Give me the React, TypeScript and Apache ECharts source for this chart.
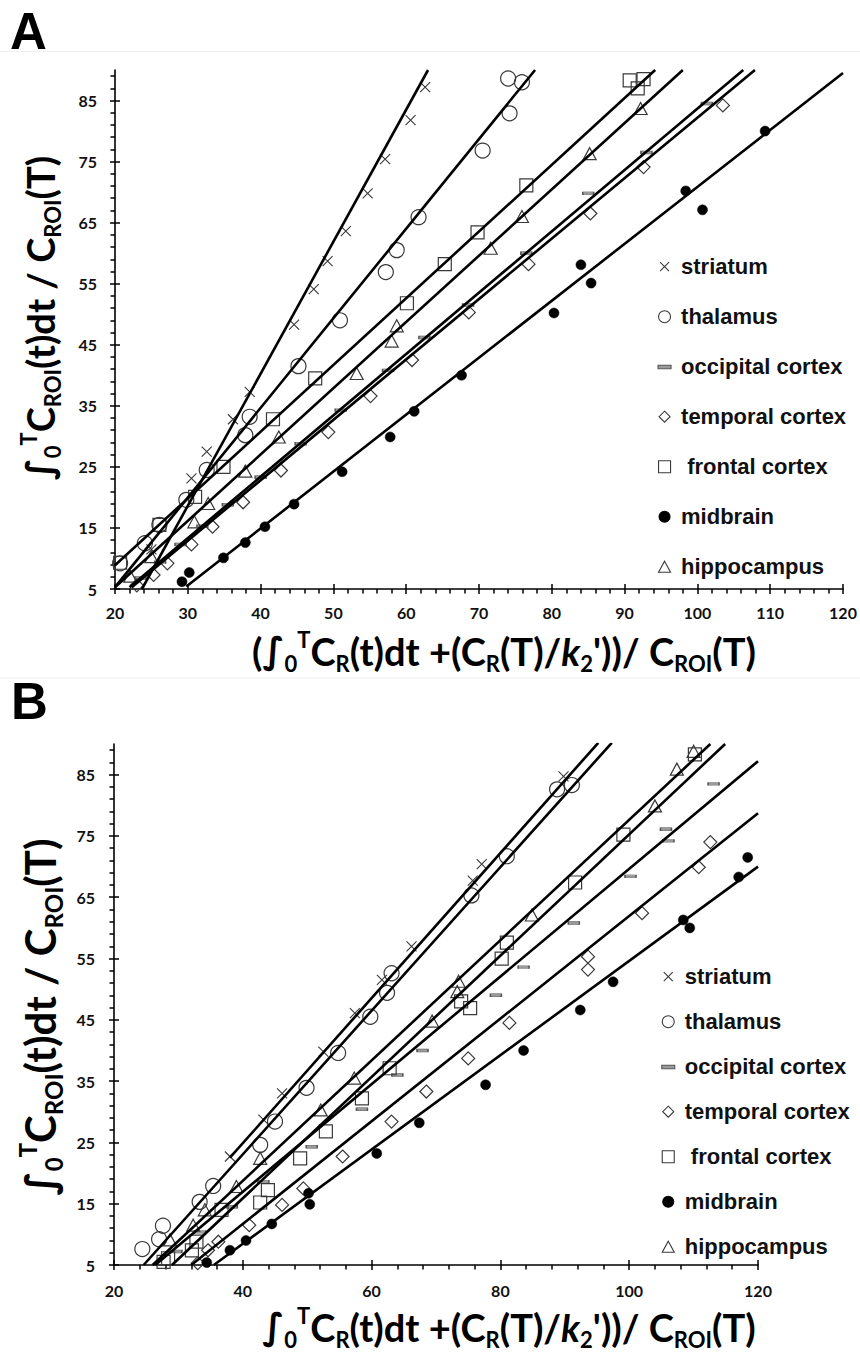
import React, { useEffect, useRef } from 'react';
import * as echarts from 'echarts';

// ---------- categories & ticks ----------
const regions = ['striatum', 'thalamus', 'occipital cortex', 'temporal cortex', 'frontal cortex', 'midbrain', 'hippocampus'];
const xTicksA = [20, 30, 40, 50, 60, 70, 80, 90, 100, 110, 120];
const xTicksB = [20, 40, 60, 80, 100, 120];
const yTicks = [5, 15, 25, 35, 45, 55, 65, 75, 85];

// ---------- panel A data [x, y] ----------
const striatumA = [[25.0, 11.5], [30.5, 23.1], [32.6, 27.5], [36.2, 32.8], [38.5, 37.3], [44.6, 48.3], [47.3, 54.1], [49.2, 58.7], [51.7, 63.6], [54.7, 69.8], [57.1, 75.4], [60.6, 81.8], [62.6, 87.2]];
const thalamusA = [[20.7, 9.2], [24.1, 12.5], [26.1, 15.5], [29.8, 19.6], [32.6, 24.5], [37.9, 30.2], [38.5, 33.2], [45.2, 41.5], [50.9, 49.0], [57.2, 56.9], [58.7, 60.5], [61.7, 65.9], [70.5, 76.8], [74.2, 82.9], [74.0, 88.6], [75.9, 88.0]];
const occipitalA = [[23.5, 6.8], [26.2, 9.4], [29.0, 12.3], [32.0, 15.3], [35.5, 18.8], [40.0, 23.3], [45.5, 28.8], [51.0, 34.3], [57.5, 40.8], [62.5, 46.2], [68.5, 51.5], [76.5, 60.0], [85.0, 69.8], [93.0, 76.5], [101.3, 84.5]];
const temporalA = [[23.0, 5.6], [25.3, 7.3], [27.2, 9.2], [30.5, 12.3], [33.4, 15.2], [37.6, 19.2], [42.8, 24.4], [49.3, 30.7], [55.1, 36.6], [60.8, 42.5], [68.6, 50.3], [76.8, 58.2], [85.3, 66.5], [92.6, 74.1], [103.5, 84.2]];
const frontalA = [[20.7, 9.3], [26.1, 15.5], [31.0, 20.1], [34.9, 25.0], [41.7, 32.8], [47.5, 39.5], [60.1, 51.8], [65.3, 58.2], [69.8, 63.4], [76.5, 71.1], [90.7, 88.3], [92.6, 88.5], [91.8, 87.0]];
const midbrainA = [[29.2, 6.2], [30.2, 7.7], [34.9, 10.1], [37.9, 12.6], [40.6, 15.2], [44.6, 18.9], [51.2, 24.2], [57.8, 29.9], [61.1, 34.1], [67.6, 40.0], [80.3, 50.2], [84.0, 58.1], [85.4, 55.1], [98.4, 70.2], [100.7, 67.1], [109.3, 80.0]];
const hippocampusA = [[22.1, 7.1], [25.0, 10.3], [30.9, 16.0], [32.8, 19.0], [37.9, 24.3], [42.5, 29.9], [53.2, 40.3], [58.0, 45.6], [58.7, 48.1], [71.6, 60.8], [75.9, 66.0], [85.2, 76.3], [92.2, 83.7]];
// fitted lines [x1, y1, x2, y2] in region order
const fitLinesA = [[23.7, 5, 63.0, 90], [20, 5.3, 77.7, 90], [22.0, 5.3, 106.3, 90], [22.3, 5.3, 107.9, 90], [20, 8.9, 94.2, 90], [29.8, 5.4, 120, 89.5], [20, 5.3, 98.0, 90]];

// ---------- panel B data [x, y] ----------
const striatumB = [[38.0, 22.7], [43.2, 28.7], [46.1, 33.0], [52.5, 39.8], [57.4, 46.1], [61.6, 51.5], [66.2, 57.0], [75.7, 67.7], [77.1, 70.4], [89.8, 84.7]];
const thalamusB = [[24.4, 7.6], [27.0, 9.2], [27.6, 11.4], [33.3, 15.3], [35.4, 17.9], [42.7, 24.6], [45.0, 28.4], [49.9, 33.9], [54.8, 39.6], [59.8, 45.5], [62.4, 49.4], [63.1, 52.6], [75.5, 65.3], [81.0, 71.7], [88.8, 82.6], [91.1, 83.3]];
const occipitalB = [[29.7, 7.2], [33.4, 10.4], [38.3, 14.5], [43.2, 18.6], [50.7, 24.3], [58.5, 30.4], [64.0, 36.0], [67.9, 40.0], [79.3, 49.0], [83.6, 53.6], [91.4, 60.8], [100.2, 68.4], [105.7, 76.1], [106.1, 74.2], [113.1, 83.5]];
const temporalB = [[33.0, 5.3], [34.6, 7.4], [36.2, 8.8], [41.0, 11.5], [46.1, 14.8], [49.4, 17.5], [55.5, 22.7], [63.1, 28.4], [68.5, 33.3], [75.0, 38.7], [81.4, 44.5], [93.6, 53.2], [93.6, 55.3], [102.0, 62.4], [110.8, 69.9], [112.6, 74.0]];
const frontalB = [[27.7, 5.5], [28.4, 6.1], [32.1, 7.4], [32.8, 8.8], [36.7, 14.0], [42.7, 15.2], [43.9, 17.2], [48.9, 22.4], [52.9, 26.8], [58.5, 32.2], [62.8, 37.1], [73.9, 48.0], [75.3, 46.9], [80.2, 55.0], [81.0, 57.6], [91.6, 67.4], [99.1, 75.2], [110.2, 88.3]];
const midbrainB = [[34.4, 5.4], [38.0, 7.4], [40.5, 9.0], [44.5, 11.7], [50.2, 16.7], [50.4, 14.9], [60.8, 23.2], [67.4, 28.2], [77.7, 34.4], [83.6, 40.0], [92.4, 46.6], [97.5, 51.2], [108.4, 61.3], [109.4, 60.0], [117.0, 68.3], [118.4, 71.5]];
const hippocampusB = [[28.7, 9.1], [32.3, 11.5], [34.1, 14.0], [39.0, 17.8], [42.7, 22.4], [52.1, 30.3], [57.3, 35.5], [69.4, 44.8], [73.3, 49.6], [73.5, 51.3], [84.9, 62.1], [104.0, 79.9], [107.4, 85.9], [110.0, 88.8]];
const fitLinesB = [[38.0, 22.5, 95.2, 90.2], [24.6, 5, 97.3, 90.2], [26.4, 5, 120, 87.2], [32.0, 5, 120, 78.7], [29.0, 5, 114.9, 90], [35.5, 5, 120, 70.0], [26.0, 5, 112.6, 90]];

const pointsA = [striatumA, thalamusA, occipitalA, temporalA, frontalA, midbrainA, hippocampusA];
const pointsB = [striatumB, thalamusB, occipitalB, temporalB, frontalB, midbrainB, hippocampusB];

// ---------- styles ----------
const HOLLOW = 'rgba(0,0,0,0)';
const MK = '#3a3a3a';
const markers: any[] = [
  { symbol: 'path://M0,0L10,10M10,0L0,10', size: 10, color: HOLLOW, border: MK, bw: 1.1 },
  { symbol: 'circle', size: 15, color: HOLLOW, border: MK, bw: 1.2 },
  { symbol: 'rect', size: [11, 3], color: '#9a9a9a', border: '#555', bw: 0.8 },
  { symbol: 'diamond', size: 13, color: HOLLOW, border: MK, bw: 1.2 },
  { symbol: 'rect', size: 13, color: HOLLOW, border: MK, bw: 1.2 },
  { symbol: 'circle', size: 10, color: '#000', border: '#000', bw: 0.5 },
  { symbol: 'triangle', size: [13, 12], color: HOLLOW, border: MK, bw: 1.2 },
];
const legendIcons = [
  'path://M0,0M13,13M2,2L11,11M11,2L2,11',
  'path://M0,0M13,13M12.5,6.5A6,6,0,1,1,0.5,6.5A6,6,0,1,1,12.5,6.5Z',
  'path://M0,0M13,13M0,5H13V8.5H0Z',
  'path://M0,0M13,13M6.5,1L12,6.5L6.5,12L1,6.5Z',
  'path://M0,0M13,13M0.5,0.5H12.5V12.5H0.5Z',
  'path://M0,0M13,13M12,6.5A5.5,5.5,0,1,1,1,6.5A5.5,5.5,0,1,1,12,6.5Z',
  'path://M0,0M13,13M6.5,1L12.5,12L0.5,12Z',
];

function minorValues(min: number, max: number, step: number, majors: number[]) {
  const out: number[] = [];
  for (let v = min; v <= max + 1e-9; v += step) {
    const r = Math.round(v * 1000) / 1000;
    if (!majors.includes(r)) out.push(r);
  }
  return out;
}

const TICK_FONT = { fontFamily: 'Lato', fontWeight: 'bold', fontSize: 16, color: '#111' };
const AXIS_COLOR = '#000';

function axisSet(dim: 'x' | 'y', grid: number, min: number, max: number, majors: number[], minors: number[], margin: number) {
  const common: any = {
    type: 'value', gridIndex: grid, min, max,
    position: dim === 'x' ? 'bottom' : 'left',
    splitLine: { show: false }, minorSplitLine: { show: false },
  };
  const tickStyle = { color: AXIS_COLOR, width: 1.5 };
  return [
    {
      ...common,
      axisLine: { show: true, onZero: false, lineStyle: { color: AXIS_COLOR, width: 1.6 } },
      axisTick: { show: true, customValues: majors, length: 5, inside: false, lineStyle: tickStyle },
      axisLabel: { show: true, customValues: majors, margin, ...TICK_FONT },
    },
    {
      ...common,
      axisLine: { show: false, onZero: false },
      axisTick: { show: true, customValues: majors, length: 5, inside: true, lineStyle: tickStyle },
      axisLabel: { show: false },
    },
    {
      ...common,
      axisLine: { show: false, onZero: false },
      axisTick: { show: true, customValues: minors, length: 4.5, inside: false, lineStyle: tickStyle },
      axisLabel: { show: false },
    },
  ];
}

function panelSeries(points: number[][][], fits: number[][], axisIndex: number) {
  const out: any[] = [];
  points.forEach((pts, i) => {
    const m = markers[i];
    out.push({
      name: regions[i],
      type: 'scatter',
      xAxisIndex: axisIndex, yAxisIndex: axisIndex,
      data: pts,
      symbol: m.symbol,
      symbolSize: m.size,
      itemStyle: { color: m.color, borderColor: m.border, borderWidth: m.bw, opacity: 1 },
      z: 2,
      silent: true,
    });
  });
  fits.forEach((f, i) => {
    out.push({
      name: 'fit ' + axisIndex + '-' + i,
      type: 'line',
      xAxisIndex: axisIndex, yAxisIndex: axisIndex,
      data: [[f[0], f[1]], [f[2], f[3]]],
      symbol: 'none',
      clip: true,
      lineStyle: { color: '#000', width: 2.6 },
      z: 3,
      silent: true,
    });
  });
  return out;
}

function titleRich(main: number, sub: number) {
  const lh = Math.round(main * 1.2);
  return {
    m: { fontFamily: 'Lato', fontWeight: 'bold', fontSize: main, lineHeight: lh, fill: '#000' },
    mi: { fontFamily: 'Lato', fontWeight: 'bold', fontStyle: 'italic', fontSize: main, lineHeight: lh, fill: '#000' },
    s: { fontFamily: 'Lato', fontWeight: 'bold', fontSize: sub, lineHeight: sub, verticalAlign: 'bottom', fill: '#000' },
    p: { fontFamily: 'Lato', fontWeight: 'bold', fontSize: sub, lineHeight: sub, verticalAlign: 'top', fill: '#000' },
    i: { fontFamily: 'DejaVu Sans', fontWeight: 'bold', fontSize: main * 0.95, lineHeight: lh, fill: '#000' },
  } as any;
}
const yTitle = '{i|∫}{s|0}{p|T}{m|C}{s|ROI}{m|(t)dt / C}{s|ROI}{m|(T)}';
const xTitleA = "{m|(}{i|∫}{s|0}{p|T}{m|C}{s|R}{m|(t)dt +(C}{s|R}{m|(T)/}{mi|k}{s|2}{m|'))/ C}{s|ROI}{m|(T)}";
const xTitleB = "{i|∫}{s|0}{p|T}{m|C}{s|R}{m|(t)dt +(C}{s|R}{m|(T)/}{mi|k}{s|2}{m|'))/ C}{s|ROI}{m|(T)}";

function legendFor(left: number, top: number, gap: number) {
  return {
    left, top, orient: 'vertical', itemGap: gap, itemWidth: 23, itemHeight: 13,
    selectedMode: false, symbolKeepAspect: true,
    data: regions.map((n, i) => ({ name: n, icon: legendIcons[i] })),
    formatter: (name: string) => (name === 'frontal cortex' ? '\u00a0' + name : name),
    textStyle: { fontFamily: 'Liberation Sans', fontWeight: 'bold', fontSize: 22, color: '#111', lineHeight: 24 },
    itemStyle: { borderWidth: 1.1 },
  };
}

function buildOption() {
  const xMinorA = minorValues(20, 120, 2, xTicksA);
  const xMinorB = minorValues(20, 120, 4, xTicksB);
  const yMinor = minorValues(5, 89, 2, yTicks);
  return {
    animation: false,
    backgroundColor: '#fff',
    grid: [
      { left: 115, top: 70, width: 728, height: 519, outerBoundsMode: 'none' },
      { left: 114, top: 744, width: 644, height: 521, outerBoundsMode: 'none' },
    ],
    xAxis: [
      ...axisSet('x', 0, 20, 120, xTicksA, xMinorA, 15),
      ...axisSet('x', 1, 20, 120, xTicksB, xMinorB, 17),
    ],
    yAxis: [
      ...axisSet('y', 0, 5, 90, yTicks, yMinor, 18),
      ...axisSet('y', 1, 5, 90, yTicks, yMinor, 19),
    ],
    legend: [legendFor(652.5, 249.7, 26), legendFor(656.2, 959.7, 21)],
    series: [...panelSeries(pointsA, fitLinesA, 0), ...panelSeries(pointsB, fitLinesB, 3)],
    graphic: [
      { type: 'line', shape: { x1: 0, y1: 51.5, x2: 860, y2: 51.5 }, style: { stroke: '#efefef', lineWidth: 1 } },
      { type: 'line', shape: { x1: 0, y1: 678, x2: 860, y2: 678 }, style: { stroke: '#efefef', lineWidth: 1 } },
      { type: 'text', x: 10, y: 31.5, style: { text: 'A', font: 'bold 51px "Liberation Sans"', fill: '#000', align: 'left', verticalAlign: 'middle' } },
      { type: 'text', x: 11, y: 701, style: { text: 'B', font: 'bold 51px "Liberation Sans"', fill: '#000', align: 'left', verticalAlign: 'middle' } },
      { type: 'text', x: 40, y: 318, rotation: Math.PI / 2, style: { text: yTitle, rich: titleRich(38, 22), align: 'center', verticalAlign: 'middle' } },
      { type: 'text', x: 40, y: 1017, rotation: Math.PI / 2, style: { text: yTitle, rich: titleRich(42, 24), align: 'center', verticalAlign: 'middle' } },
      { type: 'text', x: 504, y: 651, style: { text: xTitleA, rich: titleRich(38, 22), align: 'center', verticalAlign: 'middle' } },
      { type: 'text', x: 509, y: 1327, style: { text: xTitleB, rich: titleRich(38, 22), align: 'center', verticalAlign: 'middle' } },
    ],
  };
}

export default function App() {
  const ref = useRef<HTMLDivElement>(null);
  useEffect(() => {
    if (!ref.current) return;
    const chart = echarts.init(ref.current, null, { renderer: 'svg' });
    chart.setOption(buildOption() as any);
    return () => chart.dispose();
  }, []);
  return <div ref={ref} style={{ position: 'absolute', left: 0, top: 0, width: 860, height: 1355, background: '#fff' }} />;
}
